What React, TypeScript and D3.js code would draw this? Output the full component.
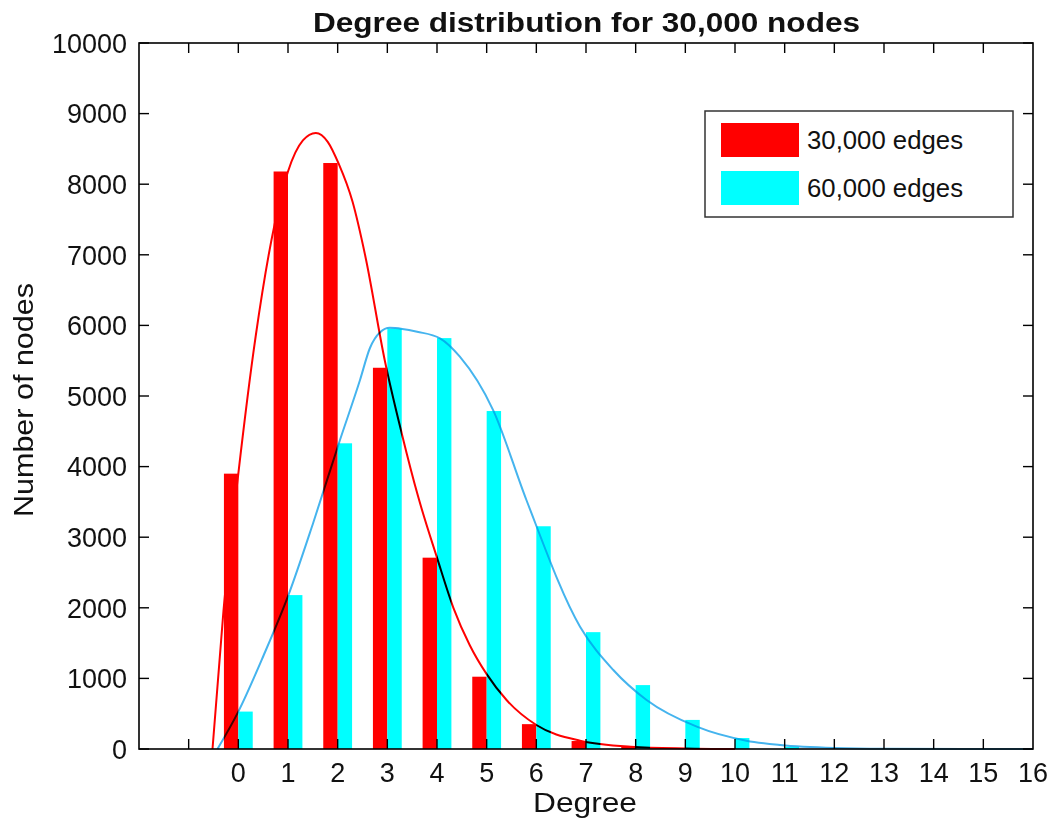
import React from 'react';
import * as d3 from 'd3';

// bar data
const degrees = [0, 1, 2, 3, 4, 5, 6, 7, 8, 9, 10, 11];
const edges30k = [3900, 8180, 8300, 5400, 2710, 1024, 352, 113, 30, 10, 0, 0];
const edges60k = [530, 2180, 4330, 5955, 5820, 4787, 3155, 1655, 905, 412, 155, 30];

// fitted curves, points
const fit30kX = [-0.52, -0.3, 0, 0.35, 0.73, 1.0, 1.3, 1.56, 1.8, 2.02, 2.3, 2.56, 2.95, 3.29, 3.62, 4.0, 4.33, 4.66, 5.0, 5.4, 6.0, 6.88, 7.9, 9, 10];
const fit30kY = [0, 1950, 3900, 5850, 7430, 8180, 8620, 8725, 8600, 8290, 7750, 6970, 5500, 4470, 3575, 2710, 2000, 1470, 1060, 694, 340, 118, 33, 8, 0];
const fit60kX = [-0.42, 0, 0.51, 1.01, 1.51, 2.02, 2.45, 2.65, 2.85, 3.05, 3.3, 3.6, 4.06, 4.46, 5.13, 5.8, 6.88, 7.55, 8.22, 9.23, 10.23, 10.91, 12, 13, 16];
const fit60kY = [0, 530, 1328, 2183, 3209, 4321, 5227, 5680, 5900, 5965, 5950, 5910, 5817, 5557, 4800, 3527, 1732, 1119, 694, 316, 118, 57, 15, 4, 0];

const xTicks = [-1, 0, 1, 2, 3, 4, 5, 6, 7, 8, 9, 10, 11, 12, 13, 14, 15];
const xLabels = ['0', '1', '2', '3', '4', '5', '6', '7', '8', '9', '10', '11', '12', '13', '14', '15', '16'];
const yTicks = [0, 1000, 2000, 3000, 4000, 5000, 6000, 7000, 8000, 9000, 10000];
const legendLabels = ['30,000 edges', '60,000 edges'];

const W = 1063;
const H = 827;
const left = 139, right = 1033, top = 43, bottom = 749;
const font = '"Liberation Sans", Arial, Helvetica, sans-serif';

const RED = '#ff0000';
const CYAN = '#00ffff';
const BLUE_LINE = '#45b4ee';

export default function App() {
  const x = d3.scaleLinear().domain([-2, 16]).range([left, right]);
  const y = d3.scaleLinear().domain([0, 10000]).range([bottom, top]);
  const barW = x(0.29) - x(0);

  const line = d3.line<[number, number]>()
    .x(d => x(d[0]))
    .y(d => y(d[1]))
    .curve(d3.curveMonotoneX);

  const red = fit30kX.map((v, i) => [v, fit30kY[i]] as [number, number]);
  const blue = fit60kX.map((v, i) => [v, fit60kY[i]] as [number, number]);

  const tick = 10;

  return (
    <svg width={W} height={H} style={{ position: 'absolute', left: 0, top: 0, background: '#fff' }}
      fontFamily={font}>
      <rect x={0} y={0} width={W} height={H} fill="#fff" />

      {/* bars */}
      {degrees.map((d, i) => (
        <g key={d}>
          {edges30k[i] > 0 && (
            <rect x={x(d) - barW} y={y(edges30k[i])} width={barW} height={bottom - y(edges30k[i])} fill={RED} />
          )}
          {edges60k[i] > 0 && (
            <rect x={x(d)} y={y(edges60k[i])} width={barW} height={bottom - y(edges60k[i])} fill={CYAN} />
          )}
        </g>
      ))}

      {/* fitted curves, multiplied over the bars (red on cyan turns black) */}
      <path d={line(red) || ''} fill="none" stroke={RED} strokeWidth={2}
        style={{ mixBlendMode: 'multiply' }} />
      <path d={line(blue) || ''} fill="none" stroke={BLUE_LINE} strokeWidth={2}
        style={{ mixBlendMode: 'multiply' }} />

      {/* frame */}
      <rect x={left} y={top} width={right - left} height={bottom - top} fill="none" stroke="#000" strokeWidth={1.6} />

      {/* x ticks */}
      {xTicks.map(t => (
        <g key={t} stroke="#000" strokeWidth={1.4}>
          <line x1={x(t)} x2={x(t)} y1={bottom} y2={bottom - tick} />
          <line x1={x(t)} x2={x(t)} y1={top} y2={top + tick} />
        </g>
      ))}
      {xLabels.map((l, i) => (
        <text key={l} x={x(i)} y={782} textAnchor="middle" fontSize={27} fill="#111">{l}</text>
      ))}

      {/* y ticks */}
      {yTicks.map(t => (
        <g key={t}>
          <line x1={left} x2={left + tick} y1={y(t)} y2={y(t)} stroke="#000" strokeWidth={1.4} />
          <line x1={right} x2={right - tick} y1={y(t)} y2={y(t)} stroke="#000" strokeWidth={1.4} />
          <text x={127} y={y(t)} dy="0.36em" textAnchor="end" fontSize={27} fill="#111">{t}</text>
        </g>
      ))}

      {/* labels */}
      <text x={313} y={32} fontSize={27.5} fontWeight="bold" fill="#111"
        textLength={547} lengthAdjust="spacingAndGlyphs">
        Degree distribution for 30,000 nodes
      </text>
      <text x={533} y={812} fontSize={28} fill="#111" textLength={104} lengthAdjust="spacingAndGlyphs">Degree</text>
      <text transform="translate(33,517) rotate(-90)" fontSize={28} fill="#111"
        textLength={234} lengthAdjust="spacingAndGlyphs">
        Number of nodes
      </text>

      {/* legend */}
      <rect x={705} y={111} width={308} height={106} fill="#fff" stroke="#333" strokeWidth={1.5} />
      {legendLabels.map((l, i) => (
        <g key={l}>
          <rect x={721} y={123 + i * 48} width={78} height={34} fill={i === 0 ? RED : CYAN} />
          <text x={807} y={140 + i * 48} dy="0.36em" fontSize={25} fill="#111"
            textLength={156} lengthAdjust="spacingAndGlyphs">{l}</text>
        </g>
      ))}
    </svg>
  );
}
